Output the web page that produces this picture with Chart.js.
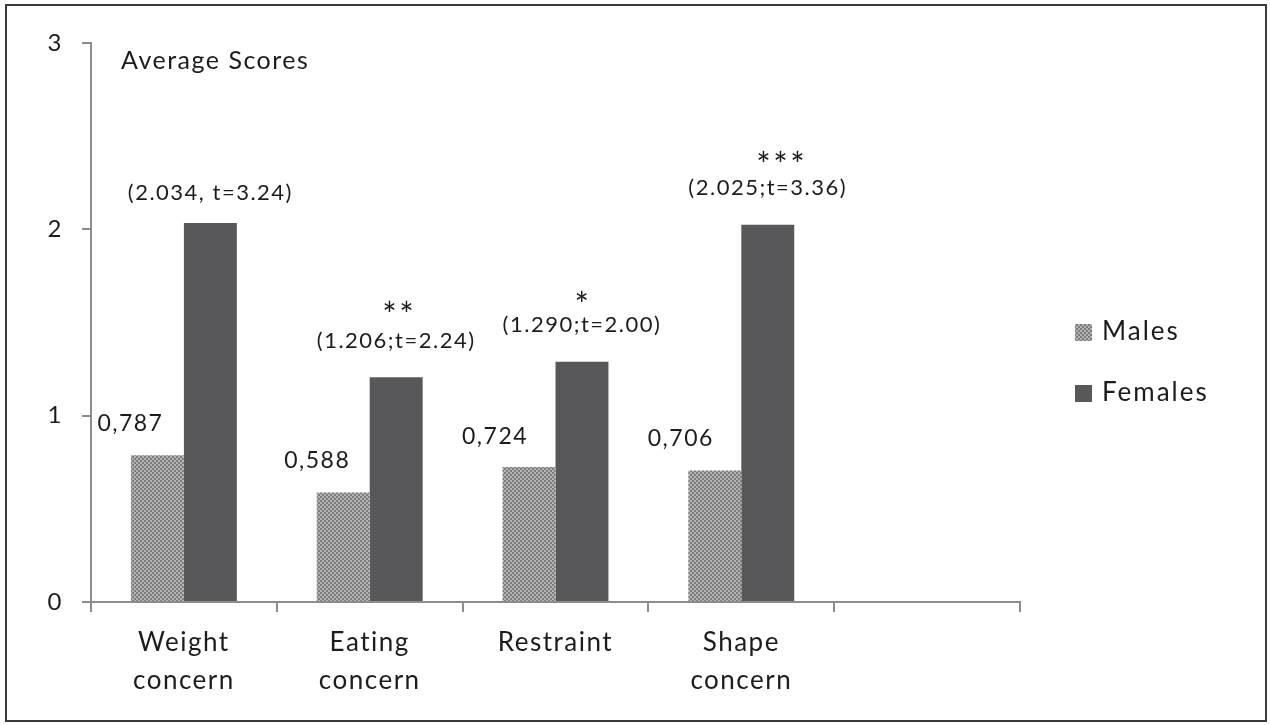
<!DOCTYPE html>
<html>
<head>
<meta charset="utf-8">
<script src="https://cdn.jsdelivr.net/npm/chart.js@4.4.0/dist/chart.umd.min.js"></script>
<style>
  html, body { margin: 0; padding: 0; background: #fff; }
  #wrap { position: relative; width: 1270px; height: 725px; }
  #frame { position: absolute; left: 5px; top: 4px; width: 1258px; height: 714px; border: 2px solid #3a3a3a; pointer-events: none; }
</style>
</head>
<body>
<div id="wrap">
  <canvas id="grafico" width="1270" height="725"></canvas>
  <div id="frame"></div>
</div>
<script>
const categorias = [["Weight", "concern"], ["Eating", "concern"], ["Restraint"], ["Shape", "concern"], ""];
const homens = [0.787, 0.588, 0.724, 0.706, null];
const mulheres = [2.034, 1.206, 1.290, 2.025, null];
const rotulosHomens = ["0,787", "0,588", "0,724", "0,706"];
const rotulosMulheres = [
  ["(2.034, t=3.24)"],
  ["**", "(1.206;t=2.24)"],
  ["*", "(1.290;t=2.00)"],
  ["***", "(2.025;t=3.36)"]
];
const ticksY = [0, 1, 2, 3];

// nudges of the value labels, relative to the top centre of their bar
const desvioHomens = [[-27, -32], [-26, -32], [-34, -31], [-34, -32]];
const desvioMulheres = [[0, -30], [0, -36], [0, -37], [0, -37]];
const desvioEstrelas = [[0, 0], [2, 33], [0, 27], [13, 30]];

const fonte = "Lato, 'Open Sans', sans-serif";
const corTexto = "#1c1c1c";

function padraoPontilhado() {
  const c = document.createElement("canvas");
  c.width = 4; c.height = 4;
  const g = c.getContext("2d");
  g.fillStyle = "#b4b4b4";
  g.fillRect(0, 0, 4, 4);
  g.fillStyle = "#7c7c7c";
  g.fillRect(0, 0, 2, 2);
  g.fillRect(2, 2, 2, 2);
  return g.createPattern(c, "repeat");
}

// the scanned chart has wide lettering, spread it a little
const pluginEspaco = {
  id: "espaco",
  beforeUpdate(chart) { chart.ctx.letterSpacing = "1.5px"; },
  beforeDraw(chart) { chart.ctx.letterSpacing = "1.5px"; }
};

const pluginRotulos = {
  id: "rotulos",
  afterDatasetsDraw(chart) {
    const ctx = chart.ctx;
    const area = chart.chartArea;
    ctx.save();
    ctx.letterSpacing = "1.5px";
    ctx.fillStyle = corTexto;
    ctx.textAlign = "left";
    ctx.textBaseline = "middle";
    ctx.font = "25px " + fonte;
    ctx.fillText("Average Scores", area.left + 30, area.top + 18);

    ctx.textAlign = "center";
    const barrasH = chart.getDatasetMeta(0).data;
    rotulosHomens.forEach((txt, i) => {
      const b = barrasH[i];
      ctx.font = "23px " + fonte;
      ctx.fillText(txt, b.x + desvioHomens[i][0], b.y + desvioHomens[i][1]);
    });
    const barrasM = chart.getDatasetMeta(1).data;
    rotulosMulheres.forEach((linhas, i) => {
      const b = barrasM[i];
      const x = b.x + desvioMulheres[i][0];
      const y = b.y + desvioMulheres[i][1];
      const ultima = linhas.length - 1;
      ctx.font = "22px " + fonte;
      ctx.fillText(linhas[ultima], x, y);
      if (ultima > 0) {
        // significance stars
        ctx.font = "34px " + fonte;
        ctx.letterSpacing = "2.5px";
        ctx.fillText(linhas[0], x + 1 + desvioEstrelas[i][0], y - desvioEstrelas[i][1] + 8);
        ctx.letterSpacing = "1.5px";
      }
    });

    // legend
    ctx.textAlign = "left";
    ctx.letterSpacing = "2px";
    ctx.font = "26px " + fonte;
    chart.data.datasets.forEach((ds, i) => {
      const ly = 332 + i * 61;
      ctx.fillStyle = ds.backgroundColor;
      ctx.fillRect(area.right + 55, ly - 8, 17, 17);
      ctx.fillStyle = corTexto;
      ctx.fillText(ds.label, area.right + 82, ly);
    });
    ctx.restore();
  }
};

const graficoNotas = new Chart(document.getElementById("grafico"), {
  type: "bar",
  data: {
    labels: categorias,
    datasets: [
      { label: "Males", data: homens, backgroundColor: padraoPontilhado(), categoryPercentage: 0.57, barPercentage: 1 },
      { label: "Females", data: mulheres, backgroundColor: "#58585b", categoryPercentage: 0.57, barPercentage: 1 }
    ]
  },
  options: {
    responsive: false,
    animation: false,
    layout: { padding: { left: 0, right: 250, top: 43, bottom: 0 } },
    plugins: { legend: { display: false }, tooltip: { enabled: false } },
    scales: {
      x: {
        grid: { display: true, drawOnChartArea: false, offset: true, color: "#8c8c8c", lineWidth: 2, tickLength: 10 },
        border: { color: "#8c8c8c", width: 2 },
        ticks: { color: corTexto, font: { family: fonte, size: 26, lineHeight: 1.45 }, padding: 12, maxRotation: 0 },
        afterFit: (s) => { s.height = 123; }
      },
      y: {
        min: 0, max: 3,
        afterBuildTicks: (s) => { s.ticks = ticksY.map(v => ({ value: v })); },
        grid: { display: true, drawOnChartArea: false, color: "#8c8c8c", lineWidth: 2, tickLength: 9 },
        border: { color: "#8c8c8c", width: 2 },
        ticks: { color: corTexto, font: { family: fonte, size: 24 }, padding: 19 },
        afterFit: (s) => { s.width = 91; }
      }
    }
  },
  plugins: [pluginEspaco, pluginRotulos]
});
</script>
</body>
</html>
